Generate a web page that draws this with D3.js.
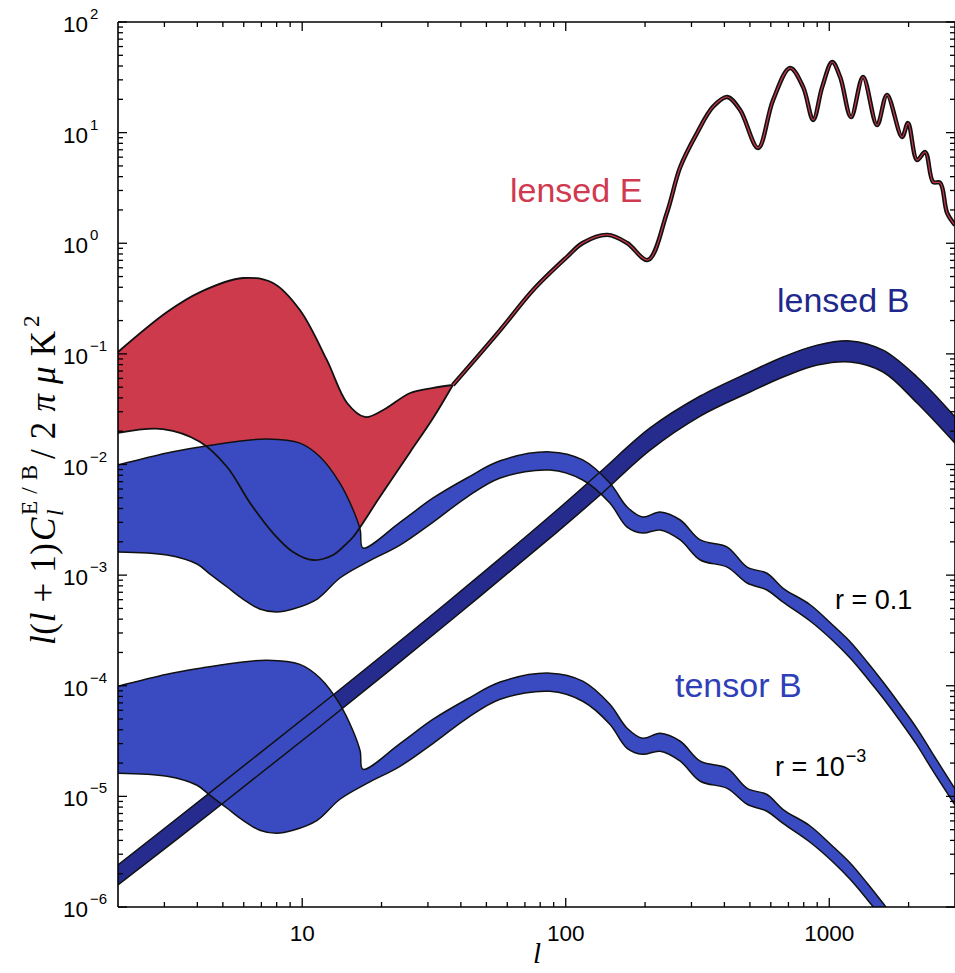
<!DOCTYPE html>
<html><head><meta charset="utf-8">
<script src="https://cdn.jsdelivr.net/npm/d3@7/dist/d3.min.js"></script>
<style>body{margin:0;background:#fff}svg{display:block}</style>
</head><body>
<svg id="c" width="955" height="973"></svg>
<script>
// ---------------- data ----------------
// lensed E, low-l band
const ellEUpper = [2, 3.07, 4.1, 5.96, 7.75, 9.8, 12.4, 14.8, 17.3, 20.3, 25.7, 31.4, 37.3];
const eUpper    = [0.104, 0.239, 0.362, 0.485, 0.437, 0.249, 0.0881, 0.036, 0.0269, 0.0311, 0.0443, 0.0492, 0.0523];
const ellELower = [2, 2.96, 4.1, 5.19, 6.34, 7.75, 9.23, 11.0, 13.1, 14.8, 15.6, 19.7, 25.7, 31.4, 37.3];
const eLower    = [0.0193, 0.0209, 0.016, 0.00949, 0.00449, 0.0024, 0.00162, 0.00137, 0.00152, 0.00195, 0.00221, 0.00508, 0.013, 0.0263, 0.0523];
// lensed E, l > 37
const ellELine = [37.3, 56.4, 75.2, 101, 116, 144, 171, 205, 242, 272, 315, 362, 410, 459, 537, 612, 710, 796, 869, 940, 1026, 1100, 1210, 1343, 1518, 1656, 1888, 1990, 2153, 2312, 2478, 2636, 2800, 3000];
const eLine    = [0.0523, 0.164, 0.378, 0.751, 1.005, 1.19, 1.005, 0.706, 1.88, 4.89, 9.93, 17.1, 21.0, 16.0, 7.26, 19.7, 38.4, 25.8, 13.0, 25.8, 43.5, 31.8, 13.8, 31.8, 11.7, 21.9, 9.13, 12.2, 5.65, 6.68, 3.58, 3.51, 1.88, 1.46];
// lensed B band
const ellLB     = [2, 4.59, 12.0, 36.4, 92.7, 135, 209, 324, 500, 668, 900, 1200, 1600, 2153, 3000];
const lbUpper   = [2.4e-6, 1.14e-5, 6.98e-5, 5.96e-4, 3.88e-3, 8.55e-3, 2.14e-2, 4.16e-2, 6.86e-2, 9.38e-2, 0.120, 0.131, 0.108, 6.18e-2, 2.69e-2];
const lbLower   = [1.58e-6, 7.38e-6, 4.51e-5, 3.85e-4, 2.45e-3, 5.3e-3, 1.35e-2, 2.74e-2, 4.52e-2, 6.18e-2, 7.93e-2, 8.45e-2, 6.86e-2, 3.6e-2, 1.56e-2];
// tensor B bands (r = 0.1 and r = 1e-3)
const ellTUpper = [2, 3.07, 4.1, 5.46, 7.36, 9.8, 11.7, 13.9, 15.6, 16.6, 17.0, 23.5, 31.4, 42.2, 56.4, 87.1, 116, 147, 171, 196, 228, 272, 324, 410, 488, 580, 668, 846, 1035, 1200, 1393, 1600, 1858, 2153, 2478, 3000];
const ellTLower = [2, 3.07, 3.99, 4.47, 5.19, 5.96, 6.9, 8.0, 9.23, 11.4, 13.9, 17.6, 23.5, 31.4, 42.2, 56.4, 87.1, 116, 147, 171, 196, 228, 272, 324, 410, 488, 580, 668, 846, 1035, 1200, 1393, 1600, 1858, 2153, 2478, 3000];
const t01Upper  = [9.9e-3, 1.27e-2, 1.44e-2, 1.6e-2, 1.7e-2, 1.56e-2, 1.17e-2, 6.8e-3, 3.9e-3, 2.56e-3, 1.76e-3, 3.0e-3, 4.98e-3, 7.55e-3, 1.08e-2, 1.3e-2, 1.1e-2, 6.8e-3, 4.13e-3, 3.35e-3, 3.72e-3, 3.15e-3, 2.08e-3, 1.79e-3, 1.18e-3, 1.04e-3, 7.6e-4, 5.4e-4, 3.5e-4, 2.5e-4, 1.64e-4, 1.08e-4, 6.7e-5, 4.1e-5, 2.4e-5, 1.17e-5];
const t01Lower  = [1.62e-3, 1.52e-3, 1.26e-3, 1.02e-3, 7.81e-4, 6.08e-4, 4.94e-4, 4.64e-4, 4.94e-4, 6.08e-4, 9.42e-4, 1.31e-3, 1.87e-3, 3.02e-3, 5.08e-3, 7.55e-3, 8.91e-3, 7.24e-3, 4.49e-3, 2.72e-3, 2.4e-3, 2.56e-3, 2.08e-3, 1.37e-3, 1.18e-3, 8.49e-4, 7.34e-4, 5.7e-4, 3.85e-4, 2.54e-4, 1.78e-4, 1.17e-4, 7.74e-5, 4.8e-5, 2.91e-5, 1.69e-5, 8.36e-6];
const t3Upper   = [9.9e-5, 1.27e-4, 1.44e-4, 1.6e-4, 1.7e-4, 1.56e-4, 1.17e-4, 6.8e-5, 3.9e-5, 2.56e-5, 1.76e-5, 3.0e-5, 4.98e-5, 7.55e-5, 1.08e-4, 1.3e-4, 1.1e-4, 6.8e-5, 4.13e-5, 3.35e-5, 3.72e-5, 3.15e-5, 2.08e-5, 1.79e-5, 1.18e-5, 1.04e-5, 7.6e-6, 5.4e-6, 3.5e-6, 2.5e-6, 1.64e-6, 1.08e-6, 6.7e-7, 4.1e-7, 2.4e-7, 1.17e-7];
const t3Lower   = [1.62e-5, 1.52e-5, 1.26e-5, 1.02e-5, 7.81e-6, 6.08e-6, 4.94e-6, 4.64e-6, 4.94e-6, 6.08e-6, 9.42e-6, 1.31e-5, 1.87e-5, 3.02e-5, 5.08e-5, 7.55e-5, 8.91e-5, 7.24e-5, 4.49e-5, 2.72e-5, 2.4e-5, 2.56e-5, 2.08e-5, 1.37e-5, 1.18e-5, 8.49e-6, 7.34e-6, 5.7e-6, 3.85e-6, 2.54e-6, 1.78e-6, 1.17e-6, 7.74e-7, 4.8e-7, 2.91e-7, 1.69e-7, 8.36e-8];
// ticks
const yMajorExp = [-6, -5, -4, -3, -2, -1, 0, 1, 2];
const xMajor = [10, 100, 1000];
const xMajorLabels = ["10", "100", "1000"];
const minorMult = [2, 3, 4, 5, 6, 7, 8, 9];

// ---------------- drawing ----------------
const X0 = 118, X1 = 955, Y0 = 22, Y1 = 907;
const x = d3.scaleLog().domain([2, 3000]).range([X0, X1]);
const y = d3.scaleLog().domain([1e-6, 1e2]).range([Y1, Y0]);
const svg = d3.select("#c");
svg.append("defs").append("clipPath").attr("id", "clip")
  .append("rect").attr("x", X0).attr("y", Y0).attr("width", X1 - X0).attr("height", Y1 - Y0);
const g = svg.append("g").attr("clip-path", "url(#clip)");

const pts = (ls, vs) => ls.map((l, i) => [l, vs[i]]);
const line = d3.line().x(d => x(d[0])).y(d => y(d[1])).curve(d3.curveCatmullRom.alpha(0.5));
const band = (u, lo) => line(u) + line(lo.slice().reverse()).replace(/^M/, "L") + "Z";

const RED = "#cc3a4c", NAVY = "#252c8e", BLUE = "#3a4bc1";

const LBu = pts(ellLB, lbUpper), LBl = pts(ellLB, lbLower);
const Eu = pts(ellEUpper, eUpper), El = pts(ellELower, eLower);
const T1u = pts(ellTUpper, t01Upper), T1l = pts(ellTLower, t01Lower);
const T3u = pts(ellTUpper, t3Upper), T3l = pts(ellTLower, t3Lower);

g.append("path").attr("d", band(LBu, LBl)).attr("fill", NAVY);
g.append("path").attr("d", band(Eu, El)).attr("fill", RED);
g.append("path").attr("d", band(T1u, T1l)).attr("fill", BLUE);
g.append("path").attr("d", band(T3u, T3l)).attr("fill", BLUE);

const outl = (p, w) => g.append("path").attr("d", line(p)).attr("fill", "none")
  .attr("stroke", "#111").attr("stroke-width", w).attr("stroke-linejoin", "round");
[LBu, LBl].forEach(p => outl(p, 1.5));
[Eu, El].forEach(p => outl(p, 1.8));
[T1u, T1l, T3u, T3l].forEach(p => outl(p, 1.5));

const EL = pts(ellELine, eLine);
g.append("path").attr("d", line(EL)).attr("fill", "none").attr("stroke", "#111").attr("stroke-width", 4.4).attr("stroke-linejoin", "round");
g.append("path").attr("d", line(EL)).attr("fill", "none").attr("stroke", RED).attr("stroke-width", 1.2).attr("stroke-linejoin", "round");

// axes frame + ticks
const ax = svg.append("g").attr("stroke", "#000").attr("stroke-width", 1.6).attr("fill", "none");
ax.append("line").attr("x1", X0).attr("y1", Y0).attr("x2", X0).attr("y2", Y1);
ax.append("line").attr("x1", X0).attr("y1", Y1).attr("x2", X1).attr("y2", Y1);
ax.append("line").attr("x1", X0).attr("y1", Y0).attr("x2", X1).attr("y2", Y0);
ax.append("line").attr("x1", X1).attr("y1", Y0).attr("x2", X1).attr("y2", Y1);

const tk = svg.append("g").attr("stroke", "#000").attr("stroke-width", 1.3);
yMajorExp.forEach(k => {
  const v = Math.pow(10, k), py = y(v);
  tk.append("line").attr("x1", X0).attr("x2", X0 + 9).attr("y1", py).attr("y2", py);
  tk.append("line").attr("x1", X1 - 9).attr("x2", X1).attr("y1", py).attr("y2", py);
  if (k < 2) minorMult.forEach(m => {
    const pm = y(m * v);
    tk.append("line").attr("x1", X0).attr("x2", X0 + 5).attr("y1", pm).attr("y2", pm);
    tk.append("line").attr("x1", X1 - 5).attr("x2", X1).attr("y1", pm).attr("y2", pm);
  });
});
const xMinors = [];
[1, 10, 100, 1000].forEach(d => minorMult.forEach(m => { const v = m * d; if (v > 2 && v < 3000) xMinors.push(v); }));
xMinors.forEach(v => {
  const px = x(v);
  tk.append("line").attr("x1", px).attr("x2", px).attr("y1", Y1).attr("y2", Y1 - 5);
  tk.append("line").attr("x1", px).attr("x2", px).attr("y1", Y0).attr("y2", Y0 + 5);
});
xMajor.forEach(v => {
  const px = x(v);
  tk.append("line").attr("x1", px).attr("x2", px).attr("y1", Y1).attr("y2", Y1 - 9);
  tk.append("line").attr("x1", px).attr("x2", px).attr("y1", Y0).attr("y2", Y0 + 9);
});

const SANS = "'Liberation Sans', Arial, Helvetica, sans-serif";
const SERIF = "'Liberation Serif', 'Times New Roman', serif";
// y tick labels
yMajorExp.forEach(k => {
  const t = svg.append("text").attr("x", 63).attr("y", y(Math.pow(10, k)) + 10)
    .attr("font-family", SANS).attr("font-size", 22.5).attr("fill", "#000");
  t.append("tspan").text("10");
  t.append("tspan").attr("dx", 2).attr("dy", -13).attr("font-size", 15).text(k < 0 ? "\u2212" + (-k) : String(k));
});
// x tick labels
xMajor.forEach((v, i) => {
  svg.append("text").attr("x", x(v)).attr("y", 941).attr("text-anchor", "middle")
    .attr("font-family", SANS).attr("font-size", 22.5).attr("fill", "#000").text(xMajorLabels[i]);
});
// x title
svg.append("text").attr("x", 537).attr("y", 963).attr("text-anchor", "middle")
  .attr("font-family", SERIF).attr("font-style", "italic").attr("font-size", 29).text("l");

// y title (rotated)
const yt = svg.append("g").attr("transform", "translate(55,645) rotate(-90)")
  .attr("font-family", SERIF).attr("fill", "#000");
const seg = (txt, xx, yy, size, italic, len) => {
  const t = yt.append("text").attr("x", xx).attr("y", yy).attr("font-size", size)
    .attr("font-style", italic ? "italic" : "normal").text(txt);
  if (len) t.attr("textLength", len).attr("lengthAdjust", "spacing");
  return t;
};
const s1 = yt.append("text").attr("x", 0).attr("y", 0).attr("font-size", 35).attr("textLength", 102).attr("lengthAdjust", "spacing");
s1.append("tspan").attr("font-style", "italic").text("l");
s1.append("tspan").text("(");
s1.append("tspan").attr("font-style", "italic").text("l");
s1.append("tspan").text(" + 1)");
seg("C", 104, 0, 35, true);
seg("l", 129, 8, 23, true);
seg("E/B", 130, -18, 23, false, 50);
const s3 = yt.append("text").attr("x", 186).attr("y", 0).attr("font-size", 35).attr("textLength", 128).attr("lengthAdjust", "spacing");
s3.append("tspan").text("/2");
s3.append("tspan").attr("font-style", "italic").text("πμ");
s3.append("tspan").text("K");
seg("2", 318, -16, 23, false);

// series labels
const lab = (txt, xx, yy, col, size) => svg.append("text").attr("x", xx).attr("y", yy)
  .attr("font-family", SANS).attr("font-size", size).attr("fill", col).text(txt);
lab("lensed E", 510, 202, "#d03a50", 34);
lab("lensed B", 777, 312, "#1f288c", 34);
lab("tensor B", 675, 697, "#2e3fb8", 34);
lab("r = 0.1", 835, 609, "#000", 27);
const rt = lab("r = 10", 775, 776, "#000", 27);
rt.append("tspan").attr("dx", 1).attr("dy", -14).attr("font-size", 18).text("\u22123");
</script>
</body></html>
